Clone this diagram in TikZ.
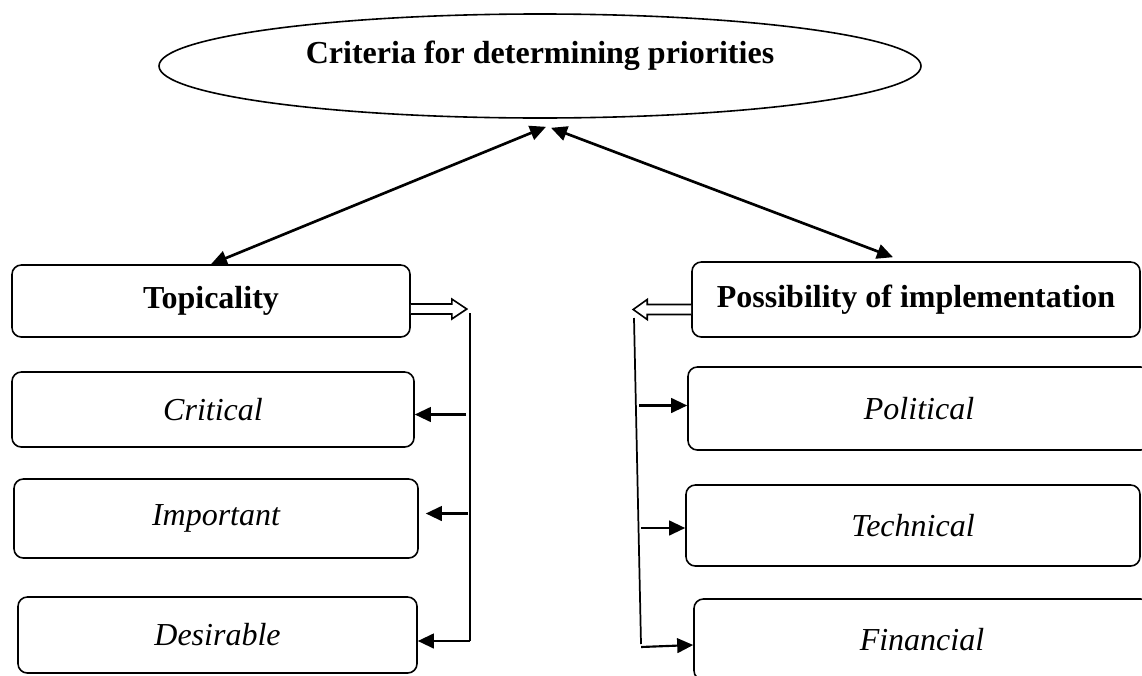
\documentclass[tikz,border=0pt]{standalone}
\usepackage{fontspec}
\setmainfont{Liberation Serif}
\usetikzlibrary{arrows.meta,shapes.geometric,calc,positioning}

\tikzset{
  box/.style={draw,rounded corners=7pt,line width=1.2pt,inner sep=0pt,
    font=\fontsize{24}{28}\selectfont\itshape},
  headbox/.style={box,font=\fontsize{24}{28}\selectfont\bfseries},
  hollow/.style={draw,fill=white,line width=1.2pt,line join=miter},
  vline/.style={line width=1.3pt},
  link/.style={line width=1.6pt,-{Triangle[length=12pt,width=11pt]}},
  twoway/.style={line width=2pt,{Triangle[length=12pt,width=11pt]}-{Triangle[length=12pt,width=11pt]}}
}

\begin{document}
\begin{tikzpicture}[x=0.75pt,y=-0.75pt]
  \useasboundingbox (0,0) rectangle (1142,675);
  \clip (0,0) rectangle (1142,675);
  % top ellipse
  \node[draw,ellipse,line width=1.2pt,minimum width=571.5pt,minimum height=78pt] (criteria) at (540,66) {};
  \node[font=\fontsize{24}{28}\selectfont\bfseries] (critlabel) at (540,56) {Criteria for determining priorities};
  \coordinate (meetL) at ($(criteria.south)+(6,8)$);
  \coordinate (meetR) at ($(criteria.south)+(11,9)$);
  % left column
  \node[headbox,minimum width=298.5pt,minimum height=54pt] (topic) at (211,301) {Topicality};
  \node[box,minimum width=301.5pt,minimum height=56.25pt] (critical) at (213,409.5) {Critical};
  \node[box,minimum width=303pt,minimum height=59.25pt] (important) at (216,518.5) {Important};
  \node[box,minimum width=299.25pt,minimum height=57pt] (desirable) at (217.5,635) {Desirable};
  % right column
  \node[headbox,minimum width=336pt,minimum height=56.25pt] (possib) at (916,299.5) {Possibility of implementation};
  \node[box,minimum width=346.5pt,minimum height=62.25pt] (political) at (919,408.5) {Political};
  \node[box,minimum width=340.5pt,minimum height=60.75pt] (technical) at (913,525.5) {Technical};
  \node[box,minimum width=342pt,minimum height=60.75pt] (financial) at (922,639.5) {Financial};
  % links to the ellipse
  \draw[twoway] (meetL) -- (topic.north);
  \draw[twoway] (meetR) -- ($(possib.north)+(-23,-4)$);
  % hollow arrows
  \draw[hollow] ($(topic.east)+(0,3)$) -- ++(41,0) -- ++(0,-5) -- ++(15,10) -- ++(-15,10) -- ++(0,-5) -- ++(-41,0);
  \draw[hollow] ($(possib.west)+(0,5)$) -- ++(-44,0) -- ++(0,-5) -- ++(-14,10) -- ++(14,10) -- ++(0,-5) -- ++(44,0);
  % left bracket
  \coordinate (lTop) at (470,313);
  \coordinate (lBot) at (470,641);
  \draw[vline] (lTop) -- (lBot);
  \draw[link] (lBot) -- (lBot -| desirable.east);
  \draw[link] ($(critical.east -| lTop)+(-4,5)$) -- ($(critical.east)+(0,5)$);
  \draw[link] ($(important.east -| lTop)+(-2,-5)$) -- ($(important.east)+(7,-5)$);
  % right bracket
  \coordinate (rTop) at (634,318);
  \coordinate (rBot) at (641,644);
  \draw[vline] (rTop) -- (rBot);
  \draw[link] ($(political.west)+(-48,-3)$) -- ($(political.west)+(0,-3)$);
  \draw[link] ($(technical.west)+(-44,2.5)$) -- ($(technical.west)+(0,2.5)$);
  \draw[link] ($(financial.west)+(-52,7.5)$) -- ($(financial.west)+(0,5.5)$);
\end{tikzpicture}
\end{document}
